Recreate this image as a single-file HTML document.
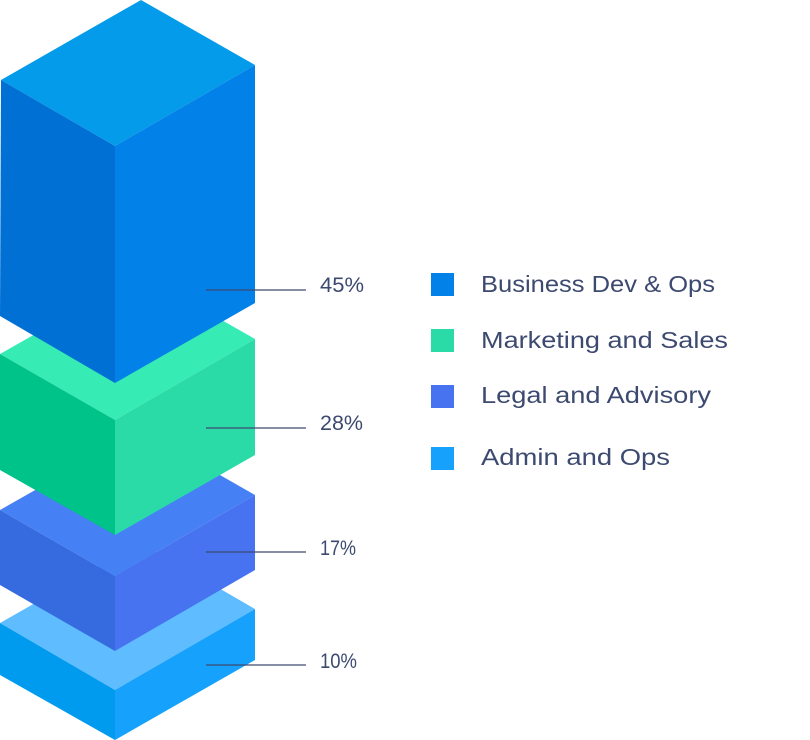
<!DOCTYPE html>
<html><head><style>html,body{margin:0;padding:0;background:#fff;width:810px;height:740px;overflow:hidden}</style></head>
<body>
<svg width="810" height="740" viewBox="0 0 810 740" xmlns="http://www.w3.org/2000/svg" font-family="Liberation Sans, sans-serif">
<!-- light blue -->
<polygon points="0,623 141,543 255,609 115,690" fill="#5fbcff"/>
<polygon points="0,623 115,690 115,740 0,675" fill="#009bef"/>
<polygon points="115,690 255,609 255,660 115,740" fill="#16a2fc"/>
<!-- purple -->
<polygon points="0,510 141,430 255,495 115,576" fill="#4680f5"/>
<polygon points="0,510 115,576 115,651 0,585" fill="#366be0"/>
<polygon points="115,576 255,495 255,570 115,651" fill="#4773f0"/>
<!-- green -->
<polygon points="0,354 141,274 255,339 115,420" fill="#36ebb4"/>
<polygon points="0,354 115,420 115,535 0,470" fill="#00c389"/>
<polygon points="115,420 255,339 255,455 115,535" fill="#2adba8"/>
<!-- blue -->
<polygon points="1,80 141,0 255,65 115,146" fill="#049bea"/>
<polygon points="1,80 115,146 115,383 0,316" fill="#0070d4"/>
<polygon points="115,146 255,65 255,303 115,383" fill="#0281e8"/>
<!-- leaders -->
<g stroke="#3d4a70" stroke-width="1.3">
<line x1="206" y1="290" x2="306" y2="290"/>
<line x1="206" y1="428" x2="306" y2="428"/>
<line x1="206" y1="552" x2="306" y2="552"/>
<line x1="206" y1="665" x2="306" y2="665"/>
</g>
<g fill="#3d4a70" font-size="21">
<text x="320" y="292" textLength="44" lengthAdjust="spacingAndGlyphs">45%</text>
<text x="320" y="430" textLength="43" lengthAdjust="spacingAndGlyphs">28%</text>
<text x="320" y="555" textLength="36" lengthAdjust="spacingAndGlyphs">17%</text>
<text x="320" y="668" textLength="37" lengthAdjust="spacingAndGlyphs">10%</text>
</g>
<rect x="431" y="273" width="23" height="23" fill="#0281e8"/>
<rect x="431" y="329" width="23" height="23" fill="#2adba8"/>
<rect x="431" y="385" width="23" height="23" fill="#4773f0"/>
<rect x="431" y="447" width="23" height="23" fill="#16a2fc"/>
<g fill="#3d4a70" font-size="23">
<text x="481" y="292" textLength="234" lengthAdjust="spacingAndGlyphs">Business Dev &amp; Ops</text>
<text x="481" y="348" textLength="247" lengthAdjust="spacingAndGlyphs">Marketing and Sales</text>
<text x="481" y="403" textLength="230" lengthAdjust="spacingAndGlyphs">Legal and Advisory</text>
<text x="481" y="465" textLength="189" lengthAdjust="spacingAndGlyphs">Admin and Ops</text>
</g>
</svg>
</body></html>
